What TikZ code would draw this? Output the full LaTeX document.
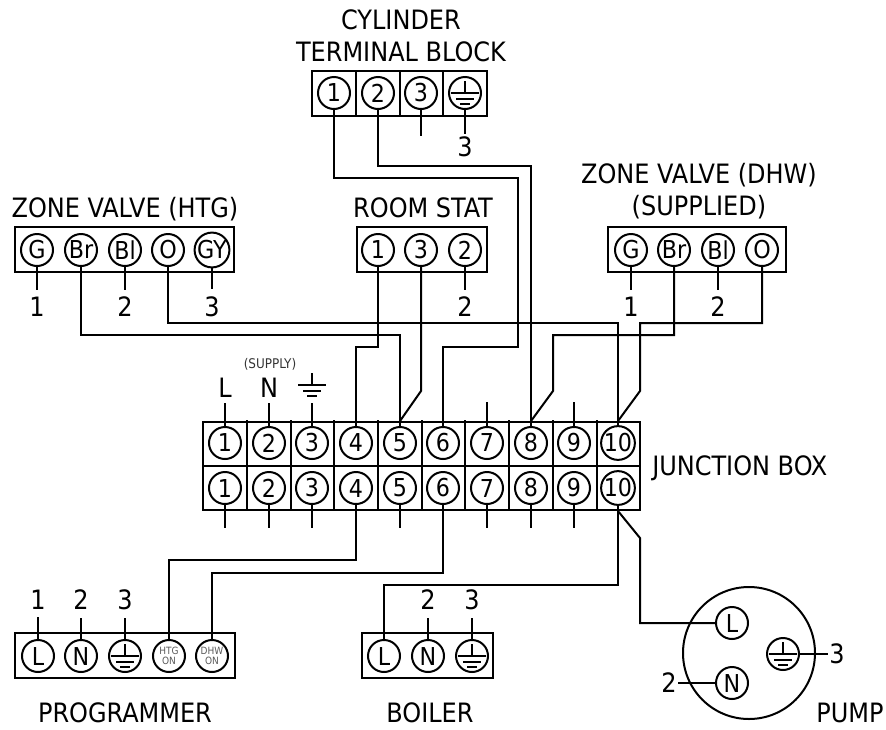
\documentclass[tikz,border=0pt]{standalone}
\usepackage{fontspec}
\setmainfont{DejaVu Sans Condensed}
\usetikzlibrary{fit}

\tikzset{
	wire/.style={line width=1.5pt, line join=miter},
	block/.style={draw, line width=1.5pt, inner sep=0pt},
	term/.style={circle, draw, line width=1.5pt, inner sep=0pt, minimum size=24pt, font=\fontsize{18.5}{20}\selectfont},
	numlabel/.style={inner sep=5.5pt},
	title/.style={align=center, inner sep=0pt},
	tiny text/.style={font=\fontsize{7.5}{8.5}\selectfont, text=black!65},
	earthsign/.pic={
		\draw[line width=1pt] (0,-12) -- (0,0);
		\draw[line width=1.2pt] (-14,0) -- (14,0);
		\draw[line width=1.2pt] (-9,6) -- (9,6);
		\draw[line width=1.2pt] (-5,11) -- (5,11);
	}
}

\begin{document}
\begin{tikzpicture}[x=0.75pt, y=-0.75pt, font=\fontsize{20}{24}\selectfont]
	\useasboundingbox (0,0) rectangle (886,729);
	
	% Rails shared by the long runs
	\def\yhigh{323}
	\def\ylow{335}
	\def\ykink{391}
	
	% 1. Cylinder terminal block
	\node[title] (cytitle) at (401,36) {CYLINDER\\TERMINAL BLOCK};
	\node[block, fit={(312,71) (487,116)}] (cybox) {};
	\foreach \x in {356, 400, 443}
		\draw[wire] (\x,71) -- (\x,116);
	\foreach \x/\lab [count=\n] in {334/1, 378/2, 421/3, 465/}
		\node[term] (cy\n) at (\x,93) {\lab};
	\pic at (cy4) {earthsign};
	\node[numlabel, inner sep=2pt] (cyn4) at (465,147) {3};
	\draw[wire] (cy3.south) -- ++(0,26);
	\draw[wire] (cy4.south) -- (cyn4.north);
	
	% 2. Zone valve (HTG)
	\node[title] (zhtitle) at (125,209) {ZONE VALVE (HTG)};
	\node[block, fit={(15,227) (234,272)}] (zhbox) {};
	\foreach \x/\lab [count=\n] in {37/G, 81/Br, 125/Bl, 168/O, 212/GY}
		\node[term] (zh\n) at (\x,250) {\lab};
	\node[numlabel] (zhn1) at (37,307) {1};
	\node[numlabel] (zhn3) at (125,307) {2};
	\node[numlabel] (zhn5) at (212,307) {3};
	\foreach \n in {1, 3, 5}
		\draw[wire] (zh\n.south) -- (zhn\n.north);
	
	% 3. Room stat
	\node[title] (rstitle) at (423,208) {ROOM STAT};
	\node[block, fit={(357,227) (487,272)}] (rsbox) {};
	\foreach \x/\lab [count=\n] in {378/1, 421/3, 465/2}
		\node[term] (rs\n) at (\x,250) {\lab};
	\node[numlabel] (rsn3) at (465,307) {2};
	\draw[wire] (rs3.south) -- (rsn3.north);
	
	% 4. Zone valve (DHW)
	\node[title] (zdtitle) at (699,191) {ZONE VALVE (DHW)\\(SUPPLIED)};
	\node[block, fit={(608,227) (786,272)}] (zdbox) {};
	\foreach \x/\lab [count=\n] in {631/G, 674/Br, 718/Bl, 762/O}
		\node[term] (zd\n) at (\x,250) {\lab};
	\node[numlabel] (zdn1) at (631,307) {1};
	\node[numlabel] (zdn3) at (718,307) {2};
	\foreach \n in {1, 3}
		\draw[wire] (zd\n.south) -- (zdn\n.north);
	
	% 5. Junction box, two rows of ten
	\node[block, fit={(203,422) (640,510)}] (jbox) {};
	\draw[wire] (203,466) -- (640,466);
	\foreach \x in {247, 291, 334, 378, 422, 465, 509, 553, 597}
		\draw[wire] (\x,420) -- (\x,510);
	\foreach \x [count=\n] in {225, 269, 312, 356, 400, 443, 487, 531, 574, 618} {
		\node[term] (jt\n) at (\x,443) {\n};
		\node[term] (jb\n) at (\x,488) {\n};
	}
	\node[title, anchor=west] (jtitle) at (652,468) {JUNCTION BOX};
	
	% 6. Supply side
	\node[font=\fontsize{10}{12}\selectfont, text=black!80, inner sep=0pt] (sptitle) at (270,364) {(SUPPLY)};
	\node[numlabel, inner sep=4pt] (spl) at (225,388) {L};
	\node[numlabel, inner sep=4pt] (spn) at (269,388) {N};
	\pic at (312,385) {earthsign};
	\draw[wire] (jt1.north) -- (spl.south);
	\draw[wire] (jt2.north) -- (spn.south);
	\draw[wire] (jt3.north) -- ++(0,-23);
	\foreach \n in {7, 9}
		\draw[wire] (jt\n.north) -- ++(0,-24);
	\foreach \n in {1, 2, 3, 5, 7, 8, 9}
		\draw[wire] (jb\n.south) -- ++(0,23);
	
	% 7. Programmer
	\node[title] (pgtitle) at (125,713) {PROGRAMMER};
	\node[block, fit={(15,633) (235,678)}] (pgbox) {};
	\foreach \x/\lab [count=\n] in {38/L, 81/N, 125/}
		\node[term] (pg\n) at (\x,656) {\lab};
	\pic at (pg3) {earthsign};
	\node[term, tiny text, align=center] (pg4) at (169,656) {HTG\\[-1pt]ON};
	\node[term, tiny text, align=center] (pg5) at (212,656) {DHW\\[-1pt]ON};
	\foreach \x [count=\n] in {38, 81, 125} {
		\node[numlabel] (pgn\n) at (\x,600) {\n};
		\draw[wire] (pg\n.north) -- (pgn\n.south);
	}
	
	% 8. Boiler
	\node[title] (botitle) at (430,713) {BOILER};
	\node[block, fit={(362,633) (493,678)}] (bobox) {};
	\foreach \x/\lab [count=\n] in {384/L, 428/N, 472/}
		\node[term] (bo\n) at (\x,656) {\lab};
	\pic at (bo3) {earthsign};
	\node[numlabel] (bon2) at (428,600) {2};
	\node[numlabel] (bon3) at (472,600) {3};
	\foreach \n in {2, 3}
		\draw[wire] (bo\n.north) -- (bon\n.south);
	
	% 9. Pump
	\node[title] (putitle) at (850,713) {PUMP};
	\node[circle, draw, line width=1.5pt, inner sep=0pt, minimum size=99pt] (pubody) at (749,653) {};
	\node[term] (puL) at (732,623) {L};
	\node[term] (puN) at (732,683) {N};
	\node[term] (puE) at (783,654) {};
	\pic at (puE) {earthsign};
	\node[inner sep=1pt] (pun2) at (669,683) {2};
	\node[inner sep=1pt] (pun3) at (837,654) {3};
	\draw[wire] (puN.west) -- (pun2.east);
	\draw[wire] (puE.east) -- (pun3.west);
	
	% 10. Long runs between the blocks
	\draw[wire] (cy1.south) |- (518,178) -- (518,347) -| (jt6.north);
	\draw[wire] (cy2.south) |- (531,166) -- (jt8.north);
	\draw[wire] (zh2.south) |- (400,\ylow) -- (jt5.north);
	\draw[wire] (zh4.south) |- (618,\yhigh) -- (jt10.north);
	\draw[wire] (rs1.south) |- (356,347) -- (jt4.north);
	\draw[wire] (rs2.south) -- (421,\ykink) -- (jt5.north |- jbox.north);
	\draw[wire] (zd2.south) |- (553,\ylow) -- (553,\ykink) -- (jt8.north |- jbox.north);
	\draw[wire] (zd4.south) |- (640,\yhigh) -- (640,\ykink) -- (jt10.north |- jbox.north);
	\draw[wire] (jb4.south) |- (169,560) -- (pg4.north);
	\draw[wire] (jb6.south) |- (212,573) -- (pg5.north);
	\draw[wire] (jb10.south) |- (384,585) -- (bo1.north);
	\draw[wire] (jb10.south |- jbox.south) -- (640,538) |- (puL.west);
	
\end{tikzpicture}
\end{document}
